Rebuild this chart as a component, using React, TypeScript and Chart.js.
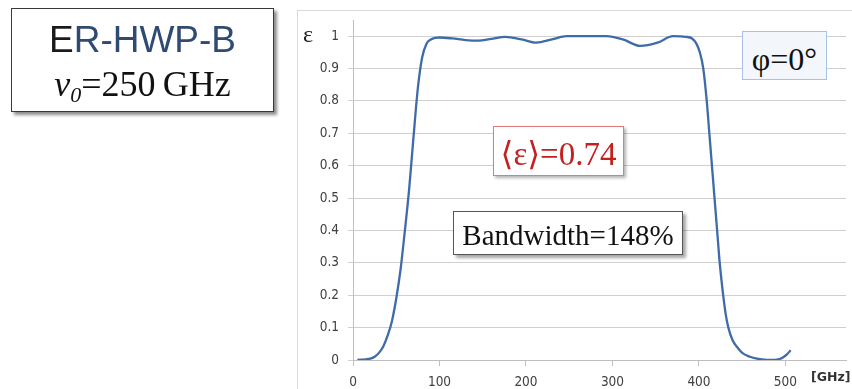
import React, { useEffect, useRef } from "react";
import { Chart, registerables } from "chart.js";

Chart.register(...registerables);

const X_GHZ = [5, 10, 15, 20, 25, 30, 35, 40, 45, 50, 55, 60, 65, 70, 75, 80, 85, 90, 95, 100, 115, 130, 145, 160, 176, 195, 212, 230, 247, 270, 293, 312, 332, 352, 370, 385, 392, 397, 401, 405, 409, 412, 415, 418, 421, 424, 428, 431, 434, 439, 444, 450, 459, 467, 475, 483, 490, 497, 502, 506];
const EPS = [0, 0.001, 0.002, 0.004, 0.01, 0.022, 0.042, 0.075, 0.12, 0.19, 0.28, 0.4, 0.53, 0.69, 0.84, 0.935, 0.977, 0.99, 0.995, 0.996, 0.993, 0.988, 0.986, 0.992, 0.998, 0.99, 0.98, 0.99, 1.0, 1.0, 1.0, 0.99, 0.97, 0.98, 1.0, 0.998, 0.993, 0.977, 0.95, 0.9, 0.8, 0.7, 0.6, 0.5, 0.4, 0.3, 0.2, 0.14, 0.1, 0.06, 0.04, 0.022, 0.01, 0.004, 0.001, 0, 0.001, 0.008, 0.018, 0.03];
const X_TICKS = [0, 100, 200, 300, 400, 500];
const Y_TICKS = [0, 0.1, 0.2, 0.3, 0.4, 0.5, 0.6, 0.7, 0.8, 0.9, 1];

const TICK_FONT = { family: "'DejaVu Sans Condensed', 'DejaVu Sans', Verdana, sans-serif", size: 13.5 };
const TICK_COLOR = "#404040";

export default function App() {
  const canvasRef = useRef<HTMLCanvasElement | null>(null);

  useEffect(() => {
    document.body.style.margin = "0";
    const ctx = canvasRef.current;
    if (!ctx) return;
    const chart = new Chart(ctx, {
      type: "line",
      data: {
        datasets: [
          {
            data: X_GHZ.map((x, i) => ({ x, y: EPS[i] })),
            borderColor: "#3f6ba8",
            borderWidth: 2.3,
            pointRadius: 0,
            cubicInterpolationMode: "monotone",
            fill: false,
          },
        ],
      },
      options: {
        animation: false,
        responsive: false,
        events: [],
        layout: { padding: { top: 20, right: 6, left: 0, bottom: 0 } },
        plugins: { legend: { display: false }, tooltip: { enabled: false } },
        scales: {
          x: {
            type: "linear",
            min: 0,
            max: 570,
            afterBuildTicks: (s: any) => {
              s.ticks = X_TICKS.map((v) => ({ value: v }));
            },
            afterFit: (s: any) => {
              s.height = 29;
            },
            grid: { drawOnChartArea: false, drawTicks: true, tickLength: 6, color: "#bfbfbf" },
            border: { color: "#bfbfbf" },
            ticks: { font: TICK_FONT, color: TICK_COLOR, padding: 8, maxRotation: 0, callback: (v: any) => String(v) },
          },
          y: {
            type: "linear",
            min: 0,
            max: 1.05,
            afterBuildTicks: (s: any) => {
              s.ticks = Y_TICKS.map((v) => ({ value: v }));
            },
            afterFit: (s: any) => {
              s.width = 353;
            },
            grid: { color: "#cfcfcf", tickLength: 5, lineWidth: 1 },
            border: { color: "#bfbfbf" },
            ticks: { font: TICK_FONT, color: TICK_COLOR, padding: 9, callback: (v: any) => String(v) },
          },
        },
      },
    });
    return () => chart.destroy();
  }, []);

  const serif = "'Liberation Serif', 'Times New Roman', 'DejaVu Serif', serif";
  const abs: React.CSSProperties = { position: "absolute", whiteSpace: "nowrap" };

  return (
    <div style={{ position: "relative", width: 852, height: 389, overflow: "hidden", background: "#ffffff" }}>
      <div style={{ ...abs, left: 297, top: 10, width: 600, height: 420, borderLeft: "1px solid #d9d9d9", borderTop: "1px solid #d9d9d9" }} />
      <canvas ref={canvasRef} width={852} height={389} style={{ position: "absolute", left: 0, top: 0 }} />

      <div style={{ ...abs, left: 303, top: 22, fontFamily: serif, fontSize: 24, lineHeight: "24px", color: "#222" }}>ε</div>
      <div style={{ ...abs, left: 811, top: 370, fontFamily: "'DejaVu Sans', sans-serif", fontWeight: "bold", fontSize: 12.5, lineHeight: "14px", color: "#333" }}>[GHz]</div>

      {/* title box */}
      <div style={{ ...abs, left: 11, top: 8, width: 263, height: 104, boxSizing: "border-box", border: "1px solid #3a3a3a", background: "#fff", boxShadow: "3px 3px 3px rgba(0,0,0,0.45)" }} />
      <div style={{ ...abs, left: 11, top: 20.5, width: 263, textAlign: "center", fontFamily: "'Liberation Sans', Arial, sans-serif", fontSize: 37, lineHeight: "37px" }}>
        <span style={{ color: "#1a1a1a" }}>E</span>
        <span style={{ color: "#2f4b73" }}>R-HWP-B</span>
      </div>
      <div style={{ ...abs, left: 11, top: 65.5, width: 263, textAlign: "center", fontFamily: serif, fontSize: 36, lineHeight: "36px", color: "#111" }}>
        <i>ν</i>
        <i style={{ fontSize: 22, verticalAlign: "-6px" }}>0</i>=250{"\u2009"}GHz
      </div>

      {/* phi box */}
      <div style={{ ...abs, left: 742, top: 31, width: 85, height: 49, boxSizing: "border-box", border: "1px solid #a9c1e3", background: "#f3f6fb" }} />
      <div style={{ ...abs, left: 742, top: 43, width: 85, textAlign: "center", fontFamily: serif, fontSize: 32, lineHeight: "32px", color: "#111" }}>φ=0°</div>

      {/* mean epsilon box */}
      <div style={{ ...abs, left: 493, top: 126, width: 131, height: 50, boxSizing: "border-box", border: "1px solid #e07b7b", background: "#fff", boxShadow: "2px 2px 3px rgba(0,0,0,0.3)" }} />
      <div style={{ ...abs, left: 493, top: 137.5, width: 131, textAlign: "center", fontFamily: serif, fontSize: 33, lineHeight: "33px", color: "#c42020" }}>⟨ε⟩=0.74</div>

      {/* bandwidth box */}
      <div style={{ ...abs, left: 453, top: 211, width: 230, height: 44, boxSizing: "border-box", border: "1px solid #555", background: "#fff", boxShadow: "3px 3px 3px rgba(0,0,0,0.35)" }} />
      <div style={{ ...abs, left: 453, top: 220.5, width: 230, textAlign: "center", fontFamily: serif, fontSize: 29, lineHeight: "29px", color: "#111" }}>Bandwidth=148%</div>
    </div>
  );
}
